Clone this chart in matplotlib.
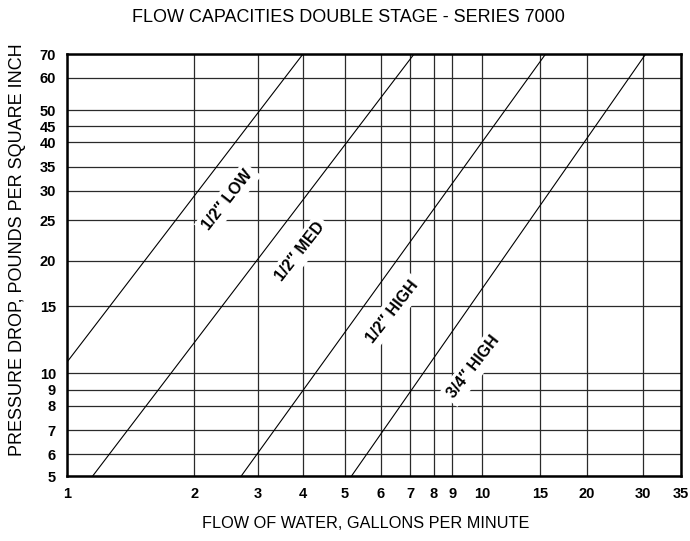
import numpy as np
import matplotlib
matplotlib.use('Agg')
import matplotlib.pyplot as plt
from matplotlib.ticker import FixedLocator, NullLocator, FixedFormatter

plt.rcParams['font.family'] = ['Liberation Sans', 'DejaVu Sans']

# ---- data ----
x_ticks = [1, 2, 3, 4, 5, 6, 7, 8, 9, 10, 15, 20, 30, 35]
y_ticks = [5, 6, 7, 8, 9, 10, 15, 20, 25, 30, 35, 40, 45, 50, 60, 70]

names = ['1/2\u2033 LOW', '1/2\u2033 MED', '1/2\u2033 HIGH', '3/4\u2033 HIGH']
flow_start = [1.0, 1.15, 2.7, 5.17]     # gpm
flow_end = [4.0, 7.15, 15.5, 30.3]
psi_start = [10.7, 5, 5, 5]             # psi
psi_end = [70, 70, 70, 70]

# printed log grid is irregular, so the scale follows its spacing
x_grid_frac = [0, 0.2078, 0.3108, 0.3847, 0.4531, 0.5113, 0.5596, 0.5982,
               0.6280, 0.6764, 0.7715, 0.8471, 0.9394, 1.0]
y_grid_frac = [0, 0.0521, 0.1090, 0.1666, 0.2045, 0.2434, 0.4021, 0.5102,
               0.6059, 0.6761, 0.7329, 0.7908, 0.8287, 0.8666, 0.9438, 1.0]

# label spots (axes fraction)
lab_x = [0.262, 0.380, 0.530, 0.663]
lab_y = [0.654, 0.531, 0.389, 0.258]


def make_scale(ticks, frac):
    lt = np.log10(ticks)

    def fwd(v):
        v = np.clip(np.asarray(v, dtype=float), 1e-6, None)
        return np.interp(np.log10(v), lt, frac)

    def inv(f):
        return 10 ** np.interp(np.asarray(f, dtype=float), frac, lt)
    return fwd, inv


fig = plt.figure(figsize=(6.9, 5.41), dpi=100)
ax = fig.add_axes([67 / 690, 65 / 541, 613.5 / 690, 422 / 541])

ax.set_xscale('function', functions=make_scale(x_ticks, x_grid_frac))
ax.set_yscale('function', functions=make_scale(y_ticks, y_grid_frac))
ax.set_xlim(1, 35)
ax.set_ylim(5, 70)

ax.xaxis.set_major_locator(FixedLocator(x_ticks))
ax.yaxis.set_major_locator(FixedLocator(y_ticks))
ax.xaxis.set_major_formatter(FixedFormatter([str(t) for t in x_ticks]))
ax.yaxis.set_major_formatter(FixedFormatter([str(t) for t in y_ticks]))
ax.xaxis.set_minor_locator(NullLocator())
ax.yaxis.set_minor_locator(NullLocator())

ax.grid(True, which='major', color='#2a2a2a', linewidth=0.9)
ax.tick_params(length=0, labelsize=10.5, pad=8)
for lab in ax.get_xticklabels() + ax.get_yticklabels():
    lab.set_fontweight('bold')
for sp in ax.spines.values():
    sp.set_linewidth(1.8)

for i in range(len(names)):
    ax.plot([flow_start[i], flow_end[i]], [psi_start[i], psi_end[i]],
            color='black', linewidth=0.8, zorder=3)
    ax.text(lab_x[i], lab_y[i], names[i], transform=ax.transAxes,
            rotation=52, ha='center', va='center', fontsize=11.5,
            fontweight='bold', zorder=4,
            bbox=dict(facecolor='white', edgecolor='none', pad=3))

fig.text(0.505, 1 - 17 / 541, 'FLOW CAPACITIES DOUBLE STAGE - SERIES 7000',
         ha='center', va='center', fontsize=13)
fig.text(0.53, 1 - 524 / 541, 'FLOW OF WATER, GALLONS PER MINUTE',
         ha='center', va='center', fontsize=11.7)
fig.text(18 / 690, 1 - 250 / 541, 'PRESSURE DROP, POUNDS PER SQUARE INCH',
         ha='center', va='center', rotation=90, fontsize=13)

fig.savefig('out.png', dpi=100)
